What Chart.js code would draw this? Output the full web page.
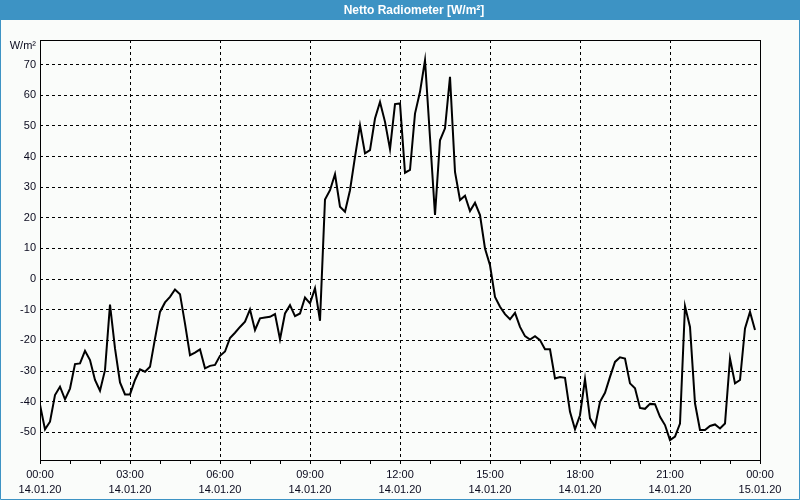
<!DOCTYPE html>
<html><head><meta charset="utf-8">
<script src="https://cdn.jsdelivr.net/npm/chart.js@4/dist/chart.umd.min.js"></script>
<style>html,body{margin:0;padding:0;background:#fafcfa;overflow:hidden}#wrap{width:800px;height:500px}</style>
</head><body><div id="wrap"><canvas id="c" width="800" height="500"></canvas></div>
<script>
const chartTitle = 'Netto Radiometer [W/m²]';
const unitLabel = 'W/m²';
const stepMinutes = 10; // one reading every 10 minutes, 14.01.20 00:00 .. 23:50
const radiation = [
 -41,-49,-46.5,-37.8,-35.1,-39.2,-35.7,-27.7,-27.5,-23.4,-26.4,-32.9,
 -36.4,-29.7,-8.3,-22.6,-33.7,-37.6,-37.6,-32.9,-29.4,-30.2,-28.6,-19.4,
 -10.7,-7.6,-5.8,-3.4,-4.9,-14.5,-24.8,-24.0,-22.9,-29.1,-28.3,-28.0,
 -25.0,-23.6,-19.2,-17.5,-15.6,-13.9,-9.9,-16.6,-12.8,-12.5,-12.3,-11.4,
 -19.6,-11.2,-8.5,-12.1,-11.2,-6.0,-7.9,-3.0,-13.6,26.0,29.0,34.2,
 23.6,22.0,29.0,39.9,50.2,41.0,42.1,52.4,57.8,51.3,42.4,57.1,
 57.3,34.7,35.6,54.0,61.1,71.4,46.2,20.9,45.3,49.2,66.0,35.0,
 25.8,27.2,22.2,24.9,20.9,10.0,4.5,-5.8,-9.0,-11.4,-13.1,-11.0,
 -15.6,-18.6,-19.7,-18.6,-19.9,-22.9,-22.9,-32.4,-31.9,-32.2,-43.3,-49.0,
 -44.4,-32.6,-45.4,-48.2,-40.0,-37.1,-31.9,-27.0,-25.5,-25.9,-34.0,-35.6,
 -42.0,-42.3,-40.7,-40.8,-44.9,-47.6,-52.5,-51.4,-47.1,-8.8,-15.6,-40.5,
 -49.2,-49.2,-47.9,-47.4,-48.7,-47.1,-25.9,-34.0,-32.9,-16.1,-10.7,-16.6
];
const tickTimes = ['00:00','03:00','06:00','09:00','12:00','15:00','18:00','21:00','00:00'];
const tickDates = ['14.01.20','14.01.20','14.01.20','14.01.20','14.01.20','14.01.20','14.01.20','14.01.20','15.01.20'];

const points = radiation.map((v, i) => ({x: i * stepMinutes, y: v}));
const FONT = 'Liberation Sans';
const TXT = '#0a0a1e';

const frame = {
  id: 'frame',
  beforeDraw(chart) {
    const c = chart.ctx;
    c.save();
    c.fillStyle = '#fafcfa';
    c.fillRect(0, 0, 800, 500);
    c.restore();
  },
  afterDraw(chart) {
    const c = chart.ctx, a = chart.chartArea;
    c.save();
    c.setLineDash([]);
    c.strokeStyle = '#000';
    c.lineWidth = 1;
    c.strokeRect(Math.round(a.left) + 0.5, Math.round(a.top) + 0.5, Math.round(a.right - a.left), Math.round(a.bottom - a.top));
    // title bar
    c.fillStyle = '#3d93c4';
    c.fillRect(0, 0, 800, 20);
    c.strokeStyle = '#3d93c4';
    c.beginPath();
    c.moveTo(0.5, 20); c.lineTo(0.5, 499.5); c.lineTo(799.5, 499.5); c.lineTo(799.5, 20);
    c.stroke();
    c.fillStyle = '#ffffff';
    c.font = 'bold 12px "' + FONT + '"';
    c.textAlign = 'center';
    c.textBaseline = 'middle';
    c.fillText(chartTitle, 414, 10.5);
    // unit label
    c.fillStyle = TXT;
    c.font = '11px "' + FONT + '"';
    c.textAlign = 'right';
    c.fillText(unitLabel, 36, 46);
    c.restore();
  }
};

new Chart(document.getElementById('c'), {
  type: 'line',
  data: { datasets: [{
    data: points,
    borderColor: '#000',
    borderWidth: 2,
    pointRadius: 0,
    tension: 0,
    fill: false
  }]},
  options: {
    responsive: false,
    animation: false,
    devicePixelRatio: 1,
    layout: { padding: { left: 0, right: 40, top: 40, bottom: 0 } },
    plugins: { legend: { display: false }, title: { display: false }, tooltip: { enabled: false } },
    scales: {
      x: {
        type: 'linear',
        min: 0, max: 1440,
        afterFit(s) { s.height = 40; },
        ticks: {
          stepSize: 60,
          autoSkip: false,
          maxRotation: 0,
          padding: 3,
          color: TXT,
          font: { family: FONT, size: 11, lineHeight: 1.4 },
          callback(v) {
            if (v % 180 !== 0) return '';
            const k = v / 180;
            return [tickTimes[k], tickDates[k]];
          }
        },
        grid: {
          color: ctx => (ctx.tick && ctx.tick.value % 180 === 0) ? '#000' : 'rgba(0,0,0,0)',
          tickColor: '#000',
          tickLength: 4,
          lineWidth: 1
        },
        border: { display: false, dash: [3, 3] }
      },
      y: {
        min: -59, max: 78,
        afterFit(s) { s.width = 40; },
        afterBuildTicks(s) { s.ticks = s.ticks.filter(t => Math.abs(t.value % 10) < 1e-9); },
        ticks: {
          stepSize: 10,
          padding: 4,
          color: TXT,
          font: { family: FONT, size: 11 }
        },
        grid: { color: '#000', drawTicks: false, lineWidth: 1 },
        border: { display: false, dash: [3, 3] }
      }
    }
  },
  plugins: [frame]
});
</script>
</body></html>
